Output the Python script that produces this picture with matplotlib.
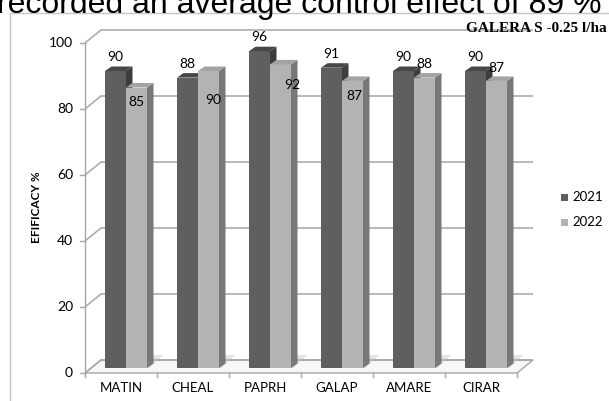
import matplotlib
matplotlib.use("Agg")
import matplotlib.pyplot as plt
from matplotlib.patches import Polygon, Rectangle
from matplotlib.transforms import offset_copy

# ---- data -------------------------------------------------------------
categories = ["MATIN", "CHEAL", "PAPRH", "GALAP", "AMARE", "CIRAR"]
series_names = ["2021", "2022"]
eff_2021 = [90, 88, 96, 91, 90, 90]
eff_2022 = [85, 90, 92, 87, 88, 87]
y_ticks = [0, 20, 40, 60, 80, 100]
chart_title = "GALERA S -0.25 l/ha"
y_title = "EFIFICACY %"
caption = "recorded an average control effect of 89 %"

# ---- styling ----------------------------------------------------------
FRONT = ["#5f5f5f", "#b3b3b3"]
SIDE = ["#3c3c3c", "#787878"]
TOP = ["#474747", "#a3a3a3"]
GRID = "#a6a6a6"
LABEL_FONT = "Lato"

# label placement in pixels (dx, dy up) relative to each bar's top centre
label_offsets = [
    [(0, 14)] * 6,
    [(0, -14), (5, -29), (12, -21), (2, -15), (0, 14), (0, 13)],
]

W, H, DPI = 609, 401, 100
fig = plt.figure(figsize=(W / DPI, H / DPI), dpi=DPI)
fig.patch.set_facecolor("white")

# plot area in pixels: x axis from 85 to 517, value 0 at row 373, 100 at row 43
X0, X1, Y0, Y1 = 85, 517, 373, 43
ax = fig.add_axes([X0 / W, 1 - Y0 / H, (X1 - X0) / W, (Y0 - Y1) / H])
n = len(categories)
ax.set_xlim(0, n)
ax.set_ylim(0, 100)
ax.axis("off")

ppx = (X1 - X0) / n
ppy = (Y0 - Y1) / 100.0


def dx(p):
    return p / ppx


def dy(p):
    return p / ppy


WX, WY = dx(16), dy(13)     # depth of the back wall / floor
BX, BY = dx(6.5), dy(4.5)   # depth of each bar
bar_tr = offset_copy(ax.transData, fig=fig, x=0, y=5, units="dots")

# floor
ax.add_patch(Polygon([(0, 0), (n, 0), (n + WX, WY), (WX, WY)], closed=True,
                     facecolor="#f7f7f7", edgecolor=GRID, lw=1.0, zorder=1,
                     clip_on=False))

# back wall gridlines with left wall diagonals
for t in y_ticks:
    ax.plot([0, WX, n + WX], [t, t + WY, t + WY], color=GRID, lw=1.1,
            zorder=1.5, clip_on=False, solid_capstyle="butt")

# value axis and ticks
ax.plot([0, 0], [0, 100], color=GRID, lw=1.0, zorder=2, clip_on=False)
for t in y_ticks:
    ax.plot([-dx(5), 0], [t, t], color=GRID, lw=1.0, zorder=2, clip_on=False)
    ax.text(-dx(12), t, str(t), ha="right", va="center", fontsize=10,
            family=LABEL_FONT, color="#000000")

# category axis ticks and labels
for i in range(n + 1):
    ax.plot([i, i], [0, -dy(4)], color=GRID, lw=1.0, zorder=2, clip_on=False)
for i, c in enumerate(categories):
    ax.text(i + 0.5, -dy(15), c, ha="center", va="center", fontsize=9.5,
            family=LABEL_FONT, color="#000000")

# 3D bars
bar_w = dx(21)
starts = [dx(20), dx(41)]
series = [eff_2021, eff_2022]
for i in range(n):
    # soft floor shadow behind each pair
    l0 = i + starts[0]
    r0 = i + starts[1] + bar_w
    ax.add_patch(Polygon([(l0, 0), (r0 + dx(3), 0), (r0 + WX, WY),
                          (l0 + WX, WY)], closed=True, facecolor="#e4e4e4",
                         edgecolor="none", zorder=1.2, transform=bar_tr,
                         clip_on=False))
    for s in range(2):
        v = series[s][i]
        l = i + starts[s]
        r = l + bar_w
        ax.bar(l, v, width=bar_w, bottom=0, align="edge", color=FRONT[s],
               edgecolor="none", zorder=3 + i * 2 + s, transform=bar_tr,
               clip_on=False)
        ax.add_patch(Polygon([(r, 0), (r + BX, BY), (r + BX, v + BY), (r, v)],
                             closed=True, facecolor=SIDE[s], edgecolor="none",
                             zorder=3 + i * 2 + s, transform=bar_tr,
                             clip_on=False))
        ax.add_patch(Polygon([(l, v), (r, v), (r + BX, v + BY), (l + BX, v + BY)],
                             closed=True, facecolor=TOP[s], edgecolor="none",
                             zorder=3 + i * 2 + s, transform=bar_tr,
                             clip_on=False))
        ox, oy = label_offsets[s][i]
        ax.annotate(str(v), xy=(l + bar_w / 2, v), xycoords=bar_tr,
                    xytext=(ox * 0.72, oy * 0.72), textcoords="offset points",
                    ha="center", va="center", fontsize=10, family=LABEL_FONT,
                    color="#000000", zorder=30, annotation_clip=False)

# value axis title
fig.text(37 / W, 1 - 207 / H, y_title, rotation=90, ha="center", va="center",
         fontsize=8.5, fontweight="bold", family=LABEL_FONT)

# chart title
fig.text(607 / W, 1 - 28 / H, chart_title, ha="right", va="center",
         fontsize=11, fontweight="bold", family="Liberation Serif")

# legend
for k, name in enumerate(series_names):
    yc = 197 + 25 * k
    fig.add_artist(Rectangle((561 / W, 1 - (yc + 3.5) / H), 7 / W, 7 / H,
                             transform=fig.transFigure, facecolor=FRONT[k],
                             edgecolor="none"))
    fig.text(572 / W, 1 - yc / H, name, ha="left", va="center", fontsize=9.5,
             family=LABEL_FONT)

# chart frame
fig.add_artist(Rectangle((10 / W, -0.05), 1.1, 1 - 13 / H + 0.05,
                         transform=fig.transFigure, facecolor="none",
                         edgecolor="#c6c6c6", lw=1.0))

# caption line above the chart
fig.text(-3 / W, 1 - 13 / H, caption, ha="left", va="baseline", fontsize=23,
         family="Liberation Sans", color="#000000")

fig.savefig("out.png", dpi=DPI)
